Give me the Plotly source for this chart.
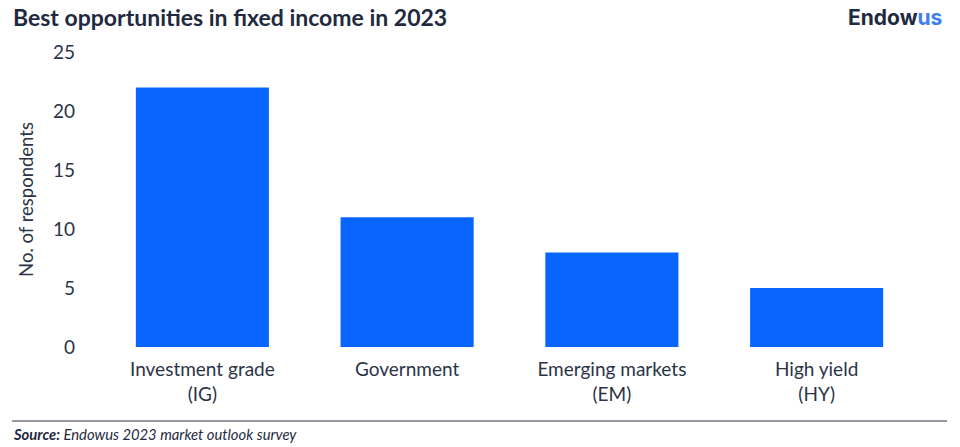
import plotly.graph_objects as go

categories = ["Investment grade<br>(IG)", "Government", "Emerging markets<br>(EM)", "High yield<br>(HY)"]
respondents = [22, 11, 8, 5]
y_ticks = [0, 5, 10, 15, 20, 25]

W, H = 960, 447
L, R, T, B = 100, 41, 52, 100
pw, ph = W - L - R, H - T - B

def px_x(x):
    return (x - L) / pw

def px_y(y):
    return (H - B - y) / ph

text_col = "#2b3447"
font = "Lato"

fig = go.Figure(go.Bar(x=categories, y=respondents, marker_color="#0866FF",
                       marker_line_width=0, hoverinfo="skip"))

fig.update_layout(
    width=W, height=H,
    margin=dict(l=L, r=R, t=T, b=B),
    paper_bgcolor="white", plot_bgcolor="white",
    bargap=0.35,
    showlegend=False,
    font=dict(family=font, color=text_col, size=19),
)
fig.update_xaxes(showgrid=False, zeroline=False, showline=False, ticks="",
                 ticklabelstandoff=9,
                 tickfont=dict(size=19, color=text_col, family=font))
fig.update_yaxes(range=[0, 25], tickvals=y_ticks, showgrid=False, zeroline=False,
                 showline=False, ticks="", ticklabelstandoff=24,
                 tickfont=dict(size=19, color=text_col, family=font),
                 title=dict(text="No. of respondents", standoff=14,
                            font=dict(size=18.5, color=text_col, family=font)))

fig.add_annotation(text="<b>Best opportunities in fixed income in 2023</b>",
                   xref="paper", yref="paper", x=px_x(11), y=px_y(17),
                   xanchor="left", yanchor="middle", showarrow=False,
                   font=dict(size=23, color="#1f2a40", family=font))
fig.add_annotation(text="<b>Endow<span style='color:#3d7ff0'>us</span></b>",
                   xref="paper", yref="paper", x=px_x(944), y=px_y(17),
                   xanchor="right", yanchor="middle", showarrow=False,
                   font=dict(size=21, color="#1f2a40", family="Inter"))
fig.add_shape(type="line", xref="paper", yref="paper",
              x0=px_x(12), x1=px_x(947), y0=px_y(421), y1=px_y(421),
              line=dict(color="#2b3447", width=1))
fig.add_annotation(text="<i><b>Source:</b> Endowus 2023 market outlook survey</i>",
                   xref="paper", yref="paper", x=px_x(11), y=px_y(434),
                   xanchor="left", yanchor="middle", showarrow=False,
                   font=dict(size=14.8, color="#1f2a40", family=font))

fig.write_html("out.html", config={"displayModeBar": False},
               post_script="document.body.style.margin='0';document.body.style.overflow='hidden';")
